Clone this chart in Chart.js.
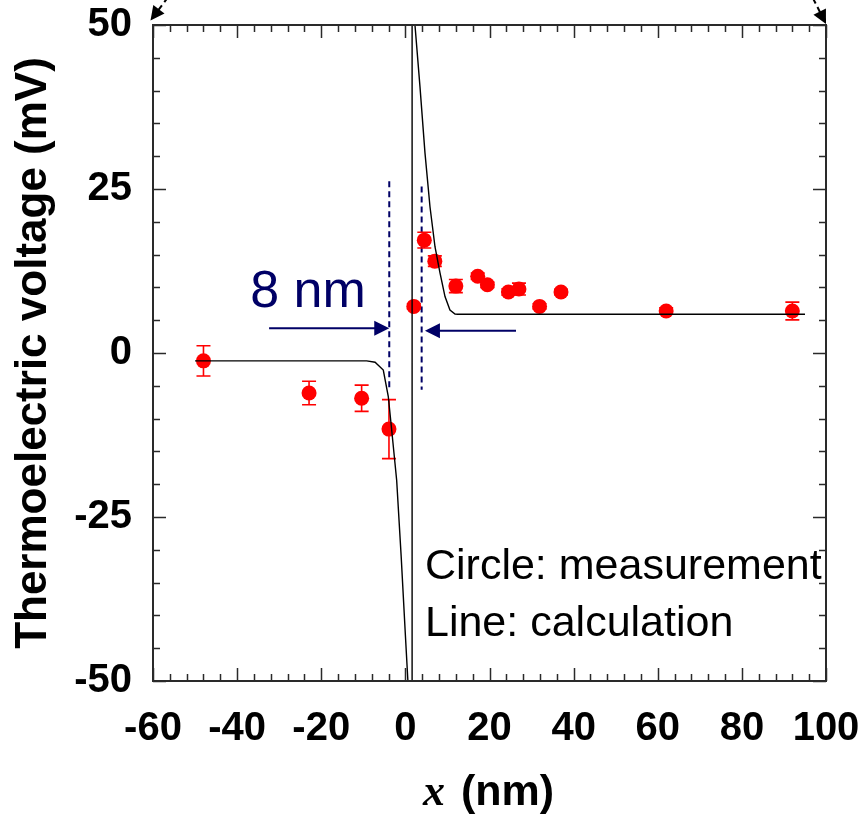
<!DOCTYPE html>
<html><head><meta charset="utf-8">
<script src="https://cdn.jsdelivr.net/npm/chart.js@4"></script>
<style>html,body{margin:0;padding:0;background:#fff;}canvas{display:block}</style>
</head><body>
<canvas id="c" width="863" height="816"></canvas>
<script>
// ---- data ----
const measX   = [-48, -22.9, -10.4, -3.9, 2.0, 4.5, 7.0, 12.0, 17.2, 19.5, 24.5, 27.0, 31.9, 37.0, 62.0, 92.0];
const measY   = [-1.2, -6.1, -6.9, -11.6, 7.1, 17.2, 14.0, 10.2, 11.7, 10.4, 9.3, 9.75, 7.1, 9.3, 6.4, 6.4];
const measErr = [2.3, 1.8, 2.0, 4.5, 0.4, 1.2, 0.8, 1.0, 0.5, 0.4, 0.5, 0.9, 0.4, 0.4, 0.5, 1.35];

const calcX = [-50, -9.2, -7.2, -5.25, -4.07, -3.26, -2.47, -2.07, -1.0, 0.0, 0.6, 1.6, 1.6, 2.28, 3.47, 4.66, 5.85, 7.04, 8.23, 9.42, 10.6, 11.8, 12.5, 95];
const calcY = [-1.2, -1.2, -1.4, -2.6, -6.6, -11.7, -16.8, -19.4, -31, -43, -50, -70, 70, 50, 40.6, 30.5, 22.3, 16.2, 12.2, 8.6, 6.55, 5.95, 5.9, 5.9];

const xTickLabels = [-60, -40, -20, 0, 20, 40, 60, 80, 100];
const yTickLabels = [-50, -25, 0, 25, 50];

const gapLinesX      = [-3.83, 3.87];
const gapLinesTop    = [26.2, 25.4];
const gapLinesBottom = [-5.7, -5.6];
const arrowFromX = [-32.4, 26.3];
const arrowToX   = [-3.83, 4.65];
const arrowY     = [3.77, 3.4];
const gapLabel = '8 nm';
const gapLabelPos = [-36.9, 7.0];
const noteLines = ['Circle: measurement', 'Line: calculation'];
const noteX = 4.66;
const noteY = [-34.5, -43.1];
const xTitleItalic = 'x';
const xTitleRest = ' (nm)';
const yTitle = 'Thermoelectric voltage (mV)';

// ---- styling ----
const NAVY = '#000066';
const FRAME = '#2a2a2a';

const measData = measX.map((v, i) => ({x: v, y: measY[i]}));
const calcData = calcX.map((v, i) => ({x: v, y: calcY[i]}));

function arrowHead(ctx, tx, ty, ux, uy, len, half) {
  const bx = tx + ux * len, by = ty + uy * len;
  const px = -uy, py = ux;
  ctx.beginPath();
  ctx.moveTo(tx, ty);
  ctx.lineTo(bx + px * half, by + py * half);
  ctx.lineTo(bx - px * half, by - py * half);
  ctx.closePath();
  ctx.fill();
}

function zeroPad(s) { s.paddingTop = 0; s.paddingBottom = 0; s.paddingLeft = 0; s.paddingRight = 0; }

const decor = {
  id: 'decor',
  beforeDatasetsDraw(chart) {
    const {ctx, scales: {x, y}} = chart;
    ctx.save();
    ctx.strokeStyle = NAVY; ctx.lineWidth = 2; ctx.setLineDash([6, 4]);
    gapLinesX.forEach((gx, i) => {
      const px = x.getPixelForValue(gx);
      ctx.beginPath();
      ctx.moveTo(px, y.getPixelForValue(gapLinesTop[i]));
      ctx.lineTo(px, y.getPixelForValue(gapLinesBottom[i]));
      ctx.stroke();
    });
    ctx.setLineDash([]);
    ctx.fillStyle = NAVY;
    arrowFromX.forEach((fx, i) => {
      const x0 = x.getPixelForValue(fx), x1 = x.getPixelForValue(arrowToX[i]);
      const py = y.getPixelForValue(arrowY[i]);
      const dir = x1 > x0 ? -1 : 1;
      ctx.beginPath(); ctx.moveTo(x0, py); ctx.lineTo(x1 + dir * 10, py); ctx.stroke();
      arrowHead(ctx, x1, py, dir, 0, 15, 7.5);
    });
    ctx.textBaseline = 'alphabetic'; ctx.textAlign = 'left';
    ctx.font = '52px "Liberation Sans", Arial, sans-serif';
    ctx.fillText(gapLabel, x.getPixelForValue(gapLabelPos[0]), y.getPixelForValue(gapLabelPos[1]));
    ctx.fillStyle = '#000';
    ctx.font = '43px "Liberation Sans", Arial, sans-serif';
    noteLines.forEach((t, i) => ctx.fillText(t, x.getPixelForValue(noteX), y.getPixelForValue(noteY[i])));
    ctx.restore();
  },
  beforeDatasetDraw(chart, args) {
    if (args.index !== 1) return;
    const {ctx, scales: {x, y}} = chart;
    ctx.save();
    ctx.strokeStyle = 'red'; ctx.lineWidth = 1.6;
    measX.forEach((mx, i) => {
      const px = x.getPixelForValue(mx);
      const t = y.getPixelForValue(measY[i] + measErr[i]);
      const b = y.getPixelForValue(measY[i] - measErr[i]);
      ctx.beginPath();
      ctx.moveTo(px, t); ctx.lineTo(px, b);
      ctx.moveTo(px - 7, t); ctx.lineTo(px + 7, t);
      ctx.moveTo(px - 7, b); ctx.lineTo(px + 7, b);
      ctx.stroke();
    });
    ctx.restore();
  },
  afterDraw(chart) {
    const {ctx, chartArea: ca, scales: {x, y}} = chart;
    ctx.save();
    ctx.strokeStyle = FRAME; ctx.lineWidth = 2;
    ctx.strokeRect(ca.left, ca.top, ca.right - ca.left, ca.bottom - ca.top);
    ctx.lineWidth = 1.5;
    ctx.beginPath();
    for (let v = x.min; v <= x.max + 1e-9; v += 4) {
      const L = (Math.abs(v % 20) < 1e-9) ? 13 : 7;
      const px = Math.round(x.getPixelForValue(v)) + 0.5;
      ctx.moveTo(px, ca.bottom); ctx.lineTo(px, ca.bottom - L);
      ctx.moveTo(px, ca.top); ctx.lineTo(px, ca.top + L);
    }
    for (let v = y.min; v <= y.max + 1e-9; v += 5) {
      const L = (Math.abs(v % 25) < 1e-9) ? 13 : 7;
      const py = Math.round(y.getPixelForValue(v)) + 0.5;
      ctx.moveTo(ca.left, py); ctx.lineTo(ca.left + L, py);
      ctx.moveTo(ca.right, py); ctx.lineTo(ca.right - L, py);
    }
    ctx.stroke();
    ctx.strokeStyle = '#000'; ctx.fillStyle = '#000'; ctx.lineWidth = 2;
    const corners = [
      {tx: ca.left - 2.5, ty: ca.top - 4.5, ux: 0.6, uy: -0.8},
      {tx: ca.right, ty: ca.top - 1, ux: -0.45, uy: -0.89}
    ];
    corners.forEach(c => {
      arrowHead(ctx, c.tx, c.ty, c.ux, c.uy, 14, 7);
      ctx.setLineDash([6, 4]);
      ctx.beginPath();
      ctx.moveTo(c.tx + c.ux * 13, c.ty + c.uy * 13);
      ctx.lineTo(c.tx + c.ux * 45, c.ty + c.uy * 45);
      ctx.stroke();
      ctx.setLineDash([]);
    });
    const cx = (ca.left + ca.right) / 2;
    const base = 805;
    ctx.fillStyle = '#000';
    ctx.textBaseline = 'alphabetic'; ctx.textAlign = 'left';
    const f1 = 'italic bold 44px "Liberation Serif", "Times New Roman", serif';
    const f2 = 'bold 43px "Liberation Sans", Arial, sans-serif';
    ctx.font = f1; const w1 = ctx.measureText(xTitleItalic).width;
    ctx.font = f2; const w2 = ctx.measureText(xTitleRest).width;
    const sx = cx - (w1 + w2) / 2 - 3;
    ctx.font = f1; ctx.fillText(xTitleItalic, sx, base);
    ctx.font = f2; ctx.fillText(xTitleRest, sx + w1 + 4, base);
    ctx.restore();
  }
};

new Chart(document.getElementById('c'), {
  type: 'scatter',
  data: {
    datasets: [
      {
        label: 'calculation', data: calcData, showLine: true, tension: 0,
        borderColor: '#000', borderWidth: 1.4, pointRadius: 0, pointHoverRadius: 0, fill: false
      },
      {
        label: 'measurement', data: measData, showLine: false,
        pointRadius: 7.5, pointHoverRadius: 7.5, backgroundColor: 'red', borderWidth: 0
      }
    ]
  },
  options: {
    responsive: false, animation: false,
    layout: {padding: {left: 0, top: 25, right: 37, bottom: 0}},
    plugins: {legend: {display: false}, tooltip: {enabled: false}},
    scales: {
      x: {
        type: 'linear', min: -60, max: 100,
        grid: {display: false}, border: {display: false},
        afterBuildTicks: s => { s.ticks = xTickLabels.map(v => ({value: v})); },
        afterFit: s => { s.height = 135; zeroPad(s); },
        ticks: {
          color: '#000', padding: 16, maxRotation: 0, autoSkip: false,
          font: {family: '"Liberation Sans", Arial, sans-serif', size: 40, weight: 'bold'},
          callback: v => String(v)
        }
      },
      y: {
        type: 'linear', min: -50, max: 50,
        grid: {display: false}, border: {display: false},
        afterBuildTicks: s => { s.ticks = yTickLabels.map(v => ({value: v})); },
        afterFit: s => { s.width = 153; zeroPad(s); },
        ticks: {
          color: '#000', padding: 13, autoSkip: false,
          font: {family: '"Liberation Sans", Arial, sans-serif', size: 40, weight: 'bold'},
          callback: v => String(v)
        },
        title: {
          display: true, text: yTitle, color: '#000',
          font: {family: '"Liberation Sans", Arial, sans-serif', size: 44, weight: 'bold'},
          padding: {top: 7, bottom: 0}
        }
      }
    }
  },
  plugins: [decor]
});
</script>
</body></html>
